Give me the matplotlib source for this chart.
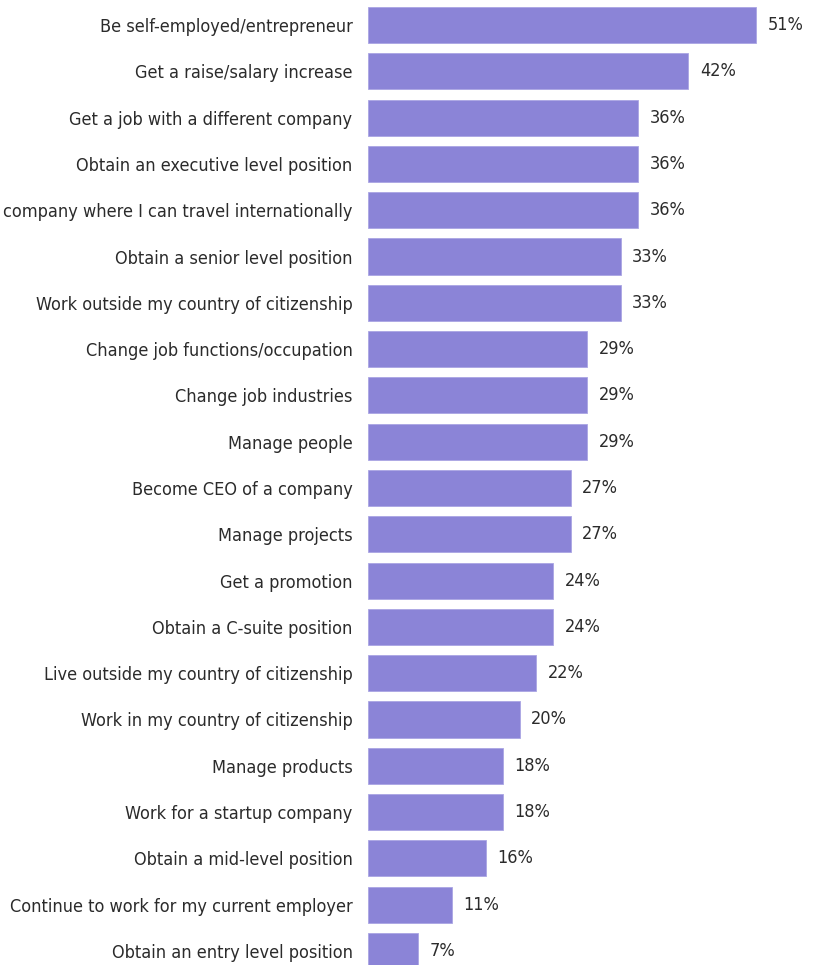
import matplotlib
matplotlib.use("Agg")
import matplotlib.pyplot as plt

categories = [
    "Be self-employed/entrepreneur",
    "Get a raise/salary increase",
    "Get a job with a different company",
    "Obtain an executive level position",
    "company where I can travel internationally",
    "Obtain a senior level position",
    "Work outside my country of citizenship",
    "Change job functions/occupation",
    "Change job industries",
    "Manage people",
    "Become CEO of a company",
    "Manage projects",
    "Get a promotion",
    "Obtain a C-suite position",
    "Live outside my country of citizenship",
    "Work in my country of citizenship",
    "Manage products",
    "Work for a startup company",
    "Obtain a mid-level position",
    "Continue to work for my current employer",
    "Obtain an entry level position",
]
# percentages (labels show them rounded)
values = [51.1, 42.2, 35.6, 35.6, 35.6, 33.3, 33.3, 28.9, 28.9, 28.9, 26.7, 26.7,
          24.4, 24.4, 22.2, 20.0, 17.8, 17.8, 15.6, 11.1, 6.7]
value_labels = [f"{round(v)}%" for v in values]

FONT = dict(family="DejaVu Sans", fontstretch="condensed", fontsize=13, color="#2b2b2b")

W, H, DPI = 813, 965, 100
fig = plt.figure(figsize=(W / DPI, H / DPI), dpi=DPI)
px_per = 7.605
x0 = 367.5
xmax = (W - x0) / px_per
ax = fig.add_axes([x0 / W, 0, 1 - x0 / W, 1])

row = 46.3
top_center = 25
ymin_idx = -top_center / row
ymax_idx = (H - top_center) / row
ypos = list(range(len(categories)))
ax.barh(ypos, values, height=0.78, color="#8b84d7", edgecolor="#aaa5e4", linewidth=0.6)
ax.set_ylim(ymax_idx, ymin_idx)
ax.set_xlim(0, xmax)
ax.set_yticks(ypos)
ax.set_yticklabels(categories)
for t in ax.get_yticklabels():
    t.set(**FONT)
ax.tick_params(axis="y", length=0, pad=10.8)
ax.set_xticks([])
for s in ax.spines.values():
    s.set_visible(False)
for y, v, lab in zip(ypos, values, value_labels):
    ax.text(v + 11.5 / px_per, y, lab, va="center", ha="left", **FONT)

fig.savefig("out.png", dpi=DPI)
